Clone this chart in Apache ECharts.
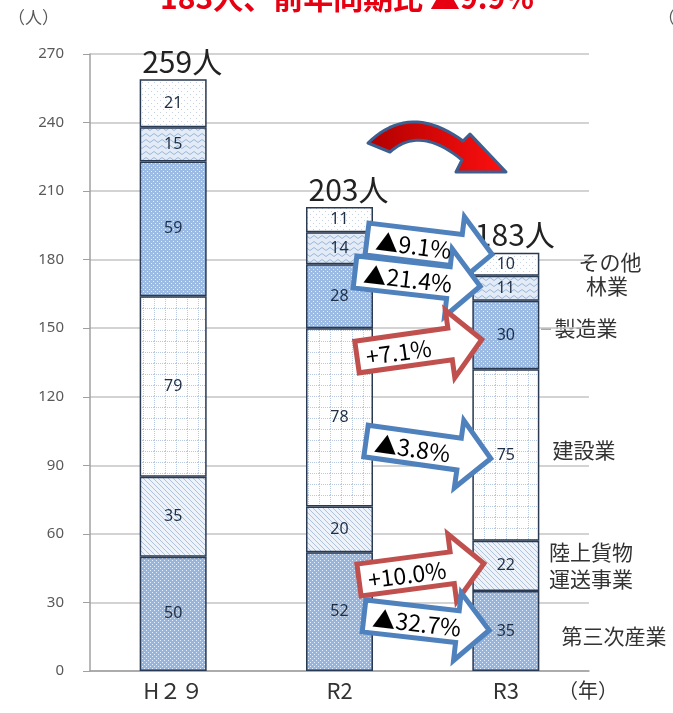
<!DOCTYPE html>
<html><head><meta charset="utf-8">
<script src="https://cdn.jsdelivr.net/npm/echarts@6/dist/echarts.min.js"></script>
<style>html,body{margin:0;padding:0;background:#fff}#c{width:673px;height:713px}</style>
</head><body><div id="c"></div>
<script>
const categories = ['H２９', 'R2', 'R3'];
const sanji = [50, 52, 35];        // 第三次産業
const rikujo = [35, 20, 22];       // 陸上貨物運送事業
const kensetsu = [79, 78, 75];     // 建設業
const seizo = [59, 28, 30];        // 製造業
const ringyo = [15, 14, 11];       // 林業
const sonota = [21, 11, 10];       // その他
const totals = [259, 203, 183];
const yTicks = {min: 0, max: 270, interval: 30};
const changes = ['▲9.1%', '▲21.4%', '+7.1%', '▲3.8%', '+10.0%', '▲32.7%'];
const legendNames = ['その他', '林業', '製造業', '建設業', '陸上貨物\n運送事業', '第三次産業'];

function pat(w, h, draw) {
  const c = document.createElement('canvas'); c.width = w; c.height = h;
  const g = c.getContext('2d'); draw(g, w, h);
  return {image: c, repeat: 'repeat'};
}
const pDotsBlue = pat(4, 4, (g) => {
  g.fillStyle = '#93b5e2'; g.fillRect(0, 0, 4, 4);
  g.fillStyle = 'rgba(255,255,255,0.8)'; g.fillRect(0, 0, 1, 1); g.fillRect(2, 2, 1, 1);
});
const pDotsBlue2 = pat(4, 4, (g) => {
  g.fillStyle = '#9bbbe5'; g.fillRect(0, 0, 4, 4);
  g.fillStyle = 'rgba(255,255,255,0.75)'; g.fillRect(1, 1, 1, 1); g.fillRect(3, 3, 1, 1);
});
const pHatch = pat(5, 5, (g) => {
  g.fillStyle = '#eef3fa'; g.fillRect(0, 0, 5, 5);
  g.strokeStyle = '#aec1dd'; g.lineWidth = 1;
  g.beginPath(); g.moveTo(0, 0); g.lineTo(5, 5); g.moveTo(-1, 4); g.lineTo(1, 6); g.moveTo(4, -1); g.lineTo(6, 1); g.stroke();
});
const pGrid = pat(11, 11, (g) => {
  g.fillStyle = '#ffffff'; g.fillRect(0, 0, 11, 11);
  g.fillStyle = '#b9c9e2';
  for (let i = 0; i < 11; i += 2) { g.fillRect(i, 0, 1, 1); g.fillRect(0, i, 1, 1); }
});
const pWave = pat(8, 6, (g) => {
  g.fillStyle = '#e2ebf6'; g.fillRect(0, 0, 8, 6);
  g.strokeStyle = '#9cb6da'; g.lineWidth = 1;
  g.beginPath(); g.moveTo(0, 3); g.quadraticCurveTo(2, 0, 4, 3); g.quadraticCurveTo(6, 6, 8, 3); g.stroke();
});
const pSparse = pat(6, 6, (g) => {
  g.fillStyle = '#ffffff'; g.fillRect(0, 0, 6, 6);
  g.fillStyle = '#c4d1e5'; g.fillRect(1, 1, 1, 1); g.fillRect(4, 4, 1, 1);
});

const chart = echarts.init(document.getElementById('c'));
const border = {borderColor: '#2a3a52', borderWidth: 1.5};
const inLabel = {show: true, position: 'inside', color: '#1f2f46', fontSize: 16, fontFamily: 'Noto Sans'};
function ser(name, data, color) {
  return {
    name, type: 'bar', stack: 'a', data, barWidth: 67,
    itemStyle: Object.assign({color}, border), label: inLabel
  };
}

// deg > 0: tilted downward to the right
function arrow(x, y, deg, color, text) {
  const L = 126, h = 32, b = 16, H = 34;
  return {
    type: 'group', x, y, rotation: -deg * Math.PI / 180, z: 100, zlevel: 1,
    children: [
      {type: 'polygon', z: 100, zlevel: 1, shape: {points: [[0, -b], [L - h, -b], [L - h, -H], [L, 0], [L - h, H], [L - h, b], [0, b]]},
        style: {fill: '#ffffff', stroke: color, lineWidth: 5, lineJoin: 'miter'}},
      {type: 'text', z: 101, zlevel: 1, x: 9, y: 1,
        style: {text, fill: '#000', font: '23px "Noto Sans CJK JP", "Noto Sans"', align: 'left', verticalAlign: 'middle'}}
    ]
  };
}
function quad(p0, c, p1, n) {
  const pts = [];
  for (let i = 0; i <= n; i++) {
    const t = i / n, u = 1 - t;
    pts.push([u * u * p0[0] + 2 * u * t * c[0] + t * t * p1[0], u * u * p0[1] + 2 * u * t * c[1] + t * t * p1[1]]);
  }
  return pts;
}
const curvePts = [].concat(
  quad([368, 143], [410, 102], [463, 141], 20),
  [[470, 134], [506, 172], [456, 172], [462, 160]],
  quad([462, 160], [420, 125], [390, 152], 20)
);
const BLUE = '#4f81bd', RED = '#c0504d';
const legendPos = [[610, 262], [607, 286], [586, 328], [584, 450], [591, 566], [614, 636]];

chart.setOption({
  animation: false,
  grid: {left: 90, right: 84, top: 54, bottom: 42},
  xAxis: {
    type: 'category', data: categories,
    axisLine: {lineStyle: {color: '#a0a0a0', width: 1.5}}, axisTick: {show: false},
    axisLabel: {color: '#333', fontSize: 22, margin: 9, fontFamily: 'Noto Sans CJK JP'}
  },
  yAxis: {
    type: 'value', min: yTicks.min, max: yTicks.max, interval: yTicks.interval,
    axisLine: {show: true, lineStyle: {color: '#a0a0a0', width: 1.5}},
    axisTick: {show: true, length: 7, lineStyle: {color: '#a0a0a0'}},
    axisLabel: {color: '#595959', fontSize: 15, margin: 26, fontFamily: 'Noto Sans'},
    splitLine: {lineStyle: {color: '#c4c4c4', width: 1.5}}
  },
  series: [
    ser('第三次産業', sanji, pDotsBlue),
    ser('陸上貨物運送事業', rikujo, pHatch),
    ser('建設業', kensetsu, pGrid),
    ser('製造業', seizo, pDotsBlue2),
    ser('林業', ringyo, pWave),
    ser('その他', sonota, pSparse),
    {
      name: 'total', type: 'bar', stack: 'a', data: totals.map(() => 0), barWidth: 67,
      itemStyle: {color: 'transparent'}, silent: true,
      label: {show: true, position: 'top', distance: 3, offset: [9, 0], fontSize: 30, color: '#222',
        fontFamily: 'Noto Sans CJK JP', formatter: (p) => totals[p.dataIndex] + '人'}
    }
  ],
  graphic: [
    {type: 'text', x: 347, y: -2, style: {text: '183人、前年同期比 ▲9.9%', fill: '#e60012',
      font: 'bold 30px "Noto Sans CJK JP"', align: 'center', verticalAlign: 'middle'}},
    {type: 'text', x: 8, y: 18, style: {text: '（人）', fill: '#595959', font: '17px "Noto Sans CJK JP"', verticalAlign: 'middle'}},
    {type: 'text', x: 658, y: 18, style: {text: '（', fill: '#595959', font: '17px "Noto Sans CJK JP"', verticalAlign: 'middle'}},
    {type: 'text', x: 558, y: 690, style: {text: '（年）', fill: '#333', font: '20px "Noto Sans CJK JP"', verticalAlign: 'middle'}},
    {type: 'line', shape: {x1: 541, y1: 329, x2: 551, y2: 329}, style: {stroke: '#555', lineWidth: 1}},
    ...legendNames.map((t, i) => ({type: 'text', x: legendPos[i][0], y: legendPos[i][1],
      style: {text: t, fill: '#333', font: '21px "Noto Sans CJK JP"', align: 'center', verticalAlign: 'middle', lineHeight: 27}})),
    {type: 'polygon', z: 100, zlevel: 1, shape: {points: curvePts},
      style: {fill: {type: 'linear', x: 0, y: 0, x2: 1, y2: 0, colorStops: [{offset: 0, color: '#b00000'}, {offset: 1, color: '#ff1010'}]},
        stroke: '#3d5f8f', lineWidth: 3, lineJoin: 'round'}},
    arrow(367, 239, 7, BLUE, changes[0]),
    arrow(355, 272, 6.5, BLUE, changes[1]),
    arrow(357, 357, -8, RED, changes[2]),
    arrow(366, 441, 8, BLUE, changes[3]),
    arrow(359, 580, -7.5, RED, changes[4]),
    arrow(364, 616, 6.5, BLUE, changes[5])
  ]
});
</script></body></html>
